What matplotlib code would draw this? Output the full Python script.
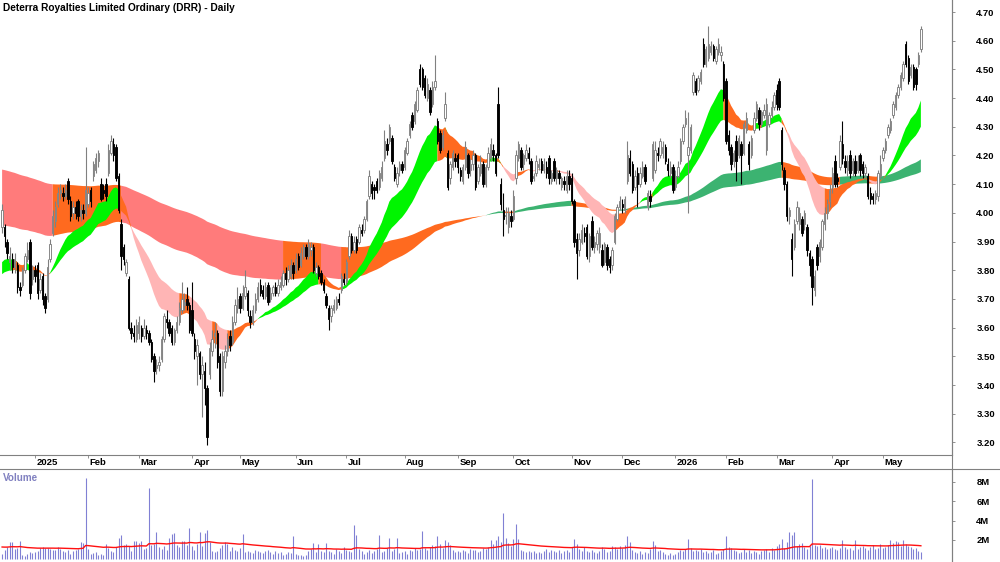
import matplotlib
matplotlib.use("Agg")
import matplotlib.pyplot as plt
from matplotlib.lines import Line2D
import numpy as np
import pandas as pd

plt.rcParams['font.family'] = ['Liberation Sans', 'DejaVu Sans']

title = "Deterra Royalties Limited Ordinary (DRR) - Daily"
start_date = "2024-12-11"
holidays = ["2024-12-25", "2024-12-26", "2025-01-01", "2025-01-27", "2025-04-18",
            "2025-04-21", "2025-04-25", "2025-06-09", "2025-12-25", "2025-12-26",
            "2026-01-01", "2026-01-26", "2026-04-03", "2026-04-06"]

# daily prices, one row per month (Dec 2024 .. May 2026)
opens = [
    3.95, 3.95, 3.90, 3.83, 3.84, 3.81, 3.82, 3.74, 3.75, 3.80, 3.84, 3.90, 3.77,
    3.80, 3.82, 3.73, 3.78, 3.71, 3.70, 3.84, 3.93, 3.97, 4.03, 4.07, 4.07, 4.06, 4.11, 4.04, 4.00, 4.02, 4.04, 3.99, 4.01, 4.00,
    4.03, 4.08, 4.13, 4.15, 4.18, 4.10, 4.08, 4.10, 4.14, 4.21, 4.24, 4.23, 4.13, 3.96, 3.88, 3.79, 3.77, 3.60, 3.58, 3.56,
    3.58, 3.60, 3.57, 3.59, 3.58, 3.55, 3.50, 3.46, 3.47, 3.49, 3.56, 3.63, 3.62, 3.60, 3.55, 3.59, 3.62, 3.66, 3.68, 3.70, 3.68,
    3.66, 3.56, 3.50, 3.51, 3.44, 3.45, 3.39, 3.44, 3.52, 3.57, 3.58, 3.50, 3.38, 3.48, 3.52, 3.57, 3.55, 3.62, 3.67,
    3.71, 3.67, 3.71, 3.72, 3.64, 3.62, 3.66, 3.70, 3.75, 3.73, 3.71, 3.75, 3.70, 3.72, 3.74, 3.72, 3.74, 3.75, 3.79, 3.77, 3.78, 3.82,
    3.80, 3.85, 3.82, 3.85, 3.88, 3.85, 3.87, 3.88, 3.79, 3.81, 3.79, 3.76, 3.71, 3.67, 3.64, 3.66, 3.67, 3.70, 3.73, 3.77,
    3.76, 3.85, 3.92, 3.87, 3.91, 3.90, 3.94, 3.94, 3.98, 4.06, 4.10, 4.09, 4.11, 4.09, 4.12, 4.19, 4.24, 4.25, 4.26, 4.16, 4.10, 4.15, 4.17,
    4.16, 4.21, 4.27, 4.34, 4.32, 4.36, 4.50, 4.50, 4.47, 4.40, 4.43, 4.38, 4.44, 4.32, 4.28, 4.23, 4.33, 4.21, 4.12, 4.16, 4.19,
    4.20, 4.15, 4.11, 4.16, 4.20, 4.15, 4.17, 4.20, 4.11, 4.14, 4.17, 4.10, 4.16, 4.19, 4.22, 4.20, 4.38, 4.10, 4.01, 3.99, 3.95, 3.99,
    3.98, 4.12, 4.19, 4.22, 4.17, 4.19, 4.21, 4.18, 4.12, 4.14, 4.16, 4.18, 4.15, 4.16, 4.19, 4.11, 4.18, 4.12, 4.14, 4.09, 4.11, 4.08, 4.13,
    4.12, 4.04, 3.91, 3.87, 3.90, 3.93, 3.95, 3.85, 3.97, 3.88, 3.89, 3.88, 3.87, 3.83, 3.88, 3.84, 3.82, 3.90, 3.98, 4.02,
    4.03, 4.01, 4.11, 4.19, 4.17, 4.09, 4.14, 4.10, 4.13, 4.16, 4.02, 4.06, 4.12, 4.15, 4.21, 4.20, 4.21, 4.23, 4.17, 4.14, 4.16,
    4.09, 4.13, 4.18, 4.25, 4.31, 4.20, 4.22, 4.42, 4.46, 4.43, 4.46, 4.59, 4.52, 4.54, 4.56, 4.58, 4.53, 4.56, 4.55, 4.52,
    4.46, 4.27, 4.23, 4.18, 4.25, 4.20, 4.24, 4.21, 4.29, 4.24, 4.20, 4.29, 4.33, 4.36, 4.31, 4.34, 4.22, 4.31, 4.34, 4.37,
    4.43, 4.46, 4.29, 4.15, 4.10, 3.99, 3.91, 3.88, 3.97, 3.96, 3.98, 3.96, 3.95, 3.86, 3.84, 3.73, 3.88, 3.85, 3.88, 3.96, 4.00, 4.04,
    4.09, 4.18, 4.12, 4.16, 4.24, 4.18, 4.15, 4.20, 4.15, 4.18, 4.15, 4.20, 4.17, 4.14, 4.13, 4.07, 4.06, 4.05, 4.06, 4.13,
    4.19, 4.22, 4.27, 4.29, 4.34, 4.37, 4.41, 4.44, 4.47, 4.59, 4.54, 4.48, 4.51, 4.50, 4.52, 4.57,
]
highs = [
    4.03, 3.96, 3.91, 3.88, 3.86, 3.86, 3.83, 3.76, 3.81, 3.86, 3.90, 3.91, 3.82,
    3.82, 3.83, 3.79, 3.79, 3.72, 3.84, 3.91, 4.01, 4.04, 4.09, 4.10, 4.09, 4.10, 4.12, 4.06, 4.04, 4.04, 4.05, 4.03, 4.03, 4.23,
    4.09, 4.09, 4.18, 4.21, 4.22, 4.12, 4.10, 4.12, 4.24, 4.27, 4.26, 4.24, 4.14, 3.98, 3.89, 3.84, 3.78, 3.62, 3.61, 3.63,
    3.64, 3.61, 3.63, 3.61, 3.59, 3.56, 3.51, 3.49, 3.50, 3.57, 3.65, 3.66, 3.63, 3.61, 3.60, 3.64, 3.69, 3.76, 3.72, 3.74, 3.69,
    3.76, 3.58, 3.56, 3.52, 3.50, 3.48, 3.40, 3.55, 3.59, 3.62, 3.59, 3.51, 3.52, 3.54, 3.58, 3.59, 3.64, 3.70, 3.74,
    3.72, 3.75, 3.80, 3.73, 3.66, 3.68, 3.72, 3.76, 3.77, 3.75, 3.76, 3.76, 3.74, 3.75, 3.76, 3.77, 3.78, 3.80, 3.81, 3.82, 3.84, 3.83,
    3.86, 3.86, 3.88, 3.89, 3.89, 3.91, 3.90, 3.89, 3.83, 3.82, 3.80, 3.77, 3.72, 3.68, 3.68, 3.70, 3.71, 3.72, 3.79, 3.79,
    3.84, 3.94, 3.93, 3.92, 3.92, 3.96, 3.96, 3.99, 4.05, 4.15, 4.11, 4.10, 4.12, 4.15, 4.18, 4.29, 4.26, 4.31, 4.27, 4.17, 4.16, 4.18, 4.18,
    4.23, 4.26, 4.32, 4.35, 4.39, 4.44, 4.52, 4.51, 4.48, 4.47, 4.44, 4.46, 4.55, 4.33, 4.29, 4.29, 4.42, 4.22, 4.18, 4.22, 4.21,
    4.21, 4.16, 4.17, 4.25, 4.21, 4.19, 4.22, 4.21, 4.17, 4.20, 4.18, 4.17, 4.23, 4.26, 4.24, 4.21, 4.44, 4.12, 4.07, 4.02, 4.02, 4.01,
    4.08, 4.22, 4.25, 4.23, 4.21, 4.24, 4.23, 4.19, 4.14, 4.20, 4.19, 4.19, 4.19, 4.18, 4.20, 4.15, 4.19, 4.16, 4.15, 4.13, 4.13, 4.15, 4.15,
    4.14, 4.05, 3.93, 3.93, 3.96, 3.95, 3.96, 3.93, 3.99, 3.92, 3.94, 3.95, 3.89, 3.90, 3.89, 3.85, 3.88, 4.00, 4.03, 4.06,
    4.05, 4.06, 4.25, 4.22, 4.18, 4.15, 4.16, 4.16, 4.18, 4.17, 4.08, 4.08, 4.25, 4.25, 4.23, 4.26, 4.25, 4.24, 4.19, 4.18, 4.17,
    4.15, 4.18, 4.26, 4.31, 4.36, 4.35, 4.31, 4.49, 4.47, 4.48, 4.50, 4.61, 4.58, 4.65, 4.60, 4.59, 4.58, 4.61, 4.58, 4.53,
    4.47, 4.29, 4.24, 4.22, 4.27, 4.27, 4.25, 4.32, 4.35, 4.25, 4.27, 4.35, 4.39, 4.37, 4.36, 4.38, 4.40, 4.35, 4.39, 4.42,
    4.45, 4.47, 4.30, 4.16, 4.11, 4.02, 3.93, 3.98, 4.04, 4.02, 3.99, 4.01, 3.96, 3.87, 3.85, 3.80, 3.89, 3.91, 3.98, 4.02, 4.05, 4.10,
    4.16, 4.20, 4.14, 4.27, 4.32, 4.20, 4.20, 4.22, 4.19, 4.20, 4.20, 4.21, 4.18, 4.17, 4.14, 4.09, 4.07, 4.08, 4.15, 4.20,
    4.23, 4.26, 4.31, 4.33, 4.39, 4.42, 4.45, 4.49, 4.53, 4.60, 4.55, 4.52, 4.52, 4.51, 4.56, 4.65,
]
lows = [
    3.93, 3.88, 3.84, 3.80, 3.79, 3.79, 3.72, 3.71, 3.74, 3.79, 3.83, 3.70, 3.75,
    3.76, 3.70, 3.72, 3.68, 3.65, 3.69, 3.83, 3.92, 3.95, 4.02, 4.05, 4.04, 4.05, 4.03, 3.97, 3.98, 3.98, 3.97, 3.97, 3.98, 3.99,
    4.02, 4.02, 4.11, 4.14, 4.16, 4.04, 4.05, 4.04, 4.13, 4.20, 4.18, 4.11, 4.00, 3.80, 3.82, 3.78, 3.59, 3.56, 3.55, 3.55,
    3.56, 3.55, 3.56, 3.56, 3.54, 3.48, 3.41, 3.44, 3.45, 3.48, 3.55, 3.60, 3.57, 3.54, 3.54, 3.58, 3.61, 3.65, 3.66, 3.66, 3.58,
    3.57, 3.49, 3.40, 3.42, 3.29, 3.33, 3.19, 3.42, 3.50, 3.53, 3.46, 3.36, 3.36, 3.46, 3.50, 3.52, 3.54, 3.61, 3.65,
    3.65, 3.66, 3.70, 3.64, 3.60, 3.61, 3.65, 3.69, 3.71, 3.70, 3.70, 3.68, 3.69, 3.71, 3.71, 3.71, 3.73, 3.74, 3.75, 3.76, 3.77, 3.77,
    3.79, 3.80, 3.81, 3.84, 3.84, 3.84, 3.85, 3.79, 3.78, 3.77, 3.75, 3.72, 3.67, 3.59, 3.62, 3.65, 3.66, 3.68, 3.72, 3.75,
    3.75, 3.84, 3.86, 3.86, 3.86, 3.89, 3.92, 3.93, 3.97, 4.05, 4.05, 4.05, 4.07, 4.08, 4.11, 4.18, 4.20, 4.24, 4.17, 4.11, 4.09, 4.13, 4.14,
    4.15, 4.20, 4.26, 4.29, 4.31, 4.35, 4.44, 4.43, 4.40, 4.39, 4.34, 4.37, 4.43, 4.24, 4.21, 4.22, 4.32, 4.08, 4.10, 4.15, 4.16,
    4.14, 4.11, 4.10, 4.15, 4.12, 4.13, 4.15, 4.08, 4.10, 4.13, 4.09, 4.09, 4.15, 4.18, 4.18, 4.13, 4.19, 4.01, 3.92, 3.96, 3.93, 3.95,
    3.97, 4.10, 4.18, 4.15, 4.15, 4.18, 4.17, 4.10, 4.11, 4.13, 4.15, 4.14, 4.14, 4.12, 4.10, 4.10, 4.11, 4.10, 4.10, 4.08, 4.08, 4.07, 4.08,
    4.03, 3.88, 3.77, 3.85, 3.89, 3.90, 3.84, 3.83, 3.87, 3.86, 3.87, 3.86, 3.81, 3.82, 3.80, 3.79, 3.80, 3.89, 3.97, 4.01,
    4.00, 4.00, 4.10, 4.13, 4.07, 4.08, 4.02, 4.09, 4.12, 4.10, 4.01, 4.02, 4.11, 4.14, 4.18, 4.19, 4.19, 4.17, 4.13, 4.12, 4.07,
    4.08, 4.12, 4.17, 4.24, 4.30, 4.00, 4.21, 4.41, 4.41, 4.42, 4.45, 4.51, 4.51, 4.53, 4.55, 4.53, 4.52, 4.55, 4.53, 4.39,
    4.24, 4.20, 4.15, 4.16, 4.11, 4.19, 4.10, 4.20, 4.28, 4.15, 4.19, 4.28, 4.32, 4.29, 4.30, 4.33, 4.20, 4.30, 4.33, 4.36,
    4.36, 4.36, 4.15, 4.08, 3.97, 3.96, 3.78, 3.87, 3.96, 3.94, 3.92, 3.94, 3.85, 3.78, 3.68, 3.71, 3.80, 3.83, 3.87, 3.94, 3.98, 4.02,
    4.07, 4.09, 4.09, 4.15, 4.17, 4.14, 4.13, 4.12, 4.13, 4.13, 4.14, 4.13, 4.12, 4.12, 4.05, 4.03, 4.03, 4.03, 4.04, 4.12,
    4.18, 4.21, 4.26, 4.28, 4.33, 4.36, 4.40, 4.43, 4.46, 4.51, 4.45, 4.47, 4.43, 4.43, 4.51, 4.56,
]
closes = [
    4.01, 3.92, 3.86, 3.85, 3.81, 3.84, 3.74, 3.73, 3.80, 3.85, 3.87, 3.72, 3.80,
    3.78, 3.72, 3.77, 3.70, 3.67, 3.81, 3.89, 3.99, 4.02, 4.07, 4.08, 4.06, 4.08, 4.05, 3.99, 4.02, 4.00, 3.99, 4.01, 4.00, 4.08,
    4.07, 4.04, 4.17, 4.19, 4.21, 4.05, 4.07, 4.06, 4.22, 4.25, 4.20, 4.12, 4.01, 3.85, 3.84, 3.83, 3.60, 3.58, 3.57, 3.61,
    3.62, 3.57, 3.60, 3.58, 3.55, 3.49, 3.45, 3.47, 3.48, 3.56, 3.64, 3.62, 3.58, 3.55, 3.59, 3.62, 3.67, 3.70, 3.69, 3.68, 3.59,
    3.58, 3.52, 3.54, 3.44, 3.47, 3.39, 3.22, 3.53, 3.56, 3.58, 3.48, 3.38, 3.50, 3.52, 3.56, 3.54, 3.62, 3.68, 3.70,
    3.67, 3.72, 3.74, 3.66, 3.62, 3.66, 3.70, 3.74, 3.72, 3.71, 3.74, 3.69, 3.72, 3.74, 3.72, 3.75, 3.76, 3.79, 3.77, 3.80, 3.82, 3.79,
    3.84, 3.81, 3.86, 3.88, 3.85, 3.89, 3.88, 3.80, 3.81, 3.78, 3.76, 3.73, 3.68, 3.63, 3.67, 3.68, 3.70, 3.69, 3.78, 3.76,
    3.83, 3.92, 3.87, 3.90, 3.87, 3.95, 3.93, 3.98, 4.04, 4.13, 4.07, 4.08, 4.08, 4.14, 4.16, 4.25, 4.22, 4.30, 4.18, 4.12, 4.14, 4.17, 4.15,
    4.22, 4.25, 4.31, 4.30, 4.38, 4.43, 4.45, 4.44, 4.41, 4.45, 4.35, 4.44, 4.46, 4.25, 4.22, 4.27, 4.38, 4.09, 4.17, 4.21, 4.18,
    4.16, 4.13, 4.16, 4.23, 4.14, 4.17, 4.20, 4.09, 4.16, 4.17, 4.10, 4.16, 4.21, 4.24, 4.20, 4.14, 4.20, 4.03, 3.98, 3.99, 4.00, 3.97,
    4.06, 4.20, 4.24, 4.16, 4.20, 4.22, 4.19, 4.11, 4.13, 4.18, 4.17, 4.15, 4.17, 4.14, 4.12, 4.14, 4.12, 4.15, 4.12, 4.12, 4.10, 4.13, 4.10,
    4.04, 3.90, 3.86, 3.91, 3.94, 3.92, 3.85, 3.92, 3.88, 3.90, 3.93, 3.93, 3.82, 3.89, 3.82, 3.81, 3.87, 3.99, 4.02, 4.04,
    4.02, 4.05, 4.20, 4.14, 4.08, 4.13, 4.10, 4.14, 4.16, 4.11, 4.07, 4.04, 4.24, 4.22, 4.20, 4.25, 4.23, 4.18, 4.15, 4.16, 4.08,
    4.13, 4.16, 4.25, 4.30, 4.33, 4.23, 4.30, 4.48, 4.42, 4.47, 4.49, 4.52, 4.57, 4.59, 4.58, 4.54, 4.57, 4.59, 4.56, 4.40,
    4.25, 4.22, 4.17, 4.21, 4.18, 4.26, 4.20, 4.31, 4.33, 4.17, 4.26, 4.33, 4.38, 4.31, 4.35, 4.36, 4.38, 4.34, 4.37, 4.41,
    4.38, 4.37, 4.17, 4.10, 3.99, 4.01, 3.84, 3.96, 4.02, 4.00, 3.93, 4.00, 3.87, 3.82, 3.74, 3.78, 3.82, 3.90, 3.97, 4.00, 4.03, 4.08,
    4.14, 4.10, 4.11, 4.25, 4.19, 4.16, 4.18, 4.14, 4.18, 4.14, 4.18, 4.15, 4.14, 4.16, 4.06, 4.05, 4.05, 4.07, 4.14, 4.17,
    4.22, 4.25, 4.30, 4.32, 4.38, 4.41, 4.44, 4.48, 4.52, 4.52, 4.46, 4.51, 4.44, 4.45, 4.55, 4.64,
]
# daily volume, millions of shares
volume_m = [
    0.6, 1.0, 1.3, 1.8, 1.8, 1.1, 1.2, 1.9, 0.4, 0.3, 0.6, 0.8, 0.7,
    0.8, 0.9, 1.2, 1.3, 1.2, 1.2, 1.1, 1.0, 1.0, 1.3, 1.1, 0.9, 0.8, 1.0, 0.6, 0.9, 1.0, 1.1, 1.8, 1.7, 8.4,
    1.1, 0.6, 0.7, 0.8, 0.5, 0.6, 0.5, 1.6, 1.2, 0.9, 0.8, 1.3, 2.2, 2.5, 1.5, 1.6, 1.4, 0.9, 1.9, 1.9,
    1.7, 1.9, 1.1, 1.2, 7.3, 1.5, 1.6, 2.8, 1.3, 1.1, 1.4, 1.0, 2.2, 2.6, 2.7, 1.5, 1.3, 1.9, 1.9, 1.5, 3.2,
    1.4, 1.0, 1.6, 2.8, 1.4, 2.7, 3.0, 1.8, 0.9, 0.8, 0.9, 1.2, 1.5, 1.8, 1.6, 0.9, 1.3, 1.0, 0.9,
    1.2, 2.6, 0.8, 0.9, 0.8, 0.7, 1.0, 0.9, 0.8, 0.7, 0.9, 1.0, 0.8, 0.6, 0.9, 0.7, 0.8, 0.5, 0.6, 0.8, 0.7, 2.4,
    0.6, 0.5, 0.4, 0.3, 0.4, 0.9, 1.1, 1.7, 0.8, 1.6, 0.9, 0.8, 1.7, 0.9, 0.8, 0.6, 1.1, 0.9, 0.7, 1.3,
    1.0, 0.9, 0.8, 3.5, 2.5, 1.1, 0.9, 0.6, 0.8, 1.0, 0.7, 0.9, 1.1, 2.5, 0.8, 0.9, 1.2, 2.2, 0.9, 1.1, 2.2, 0.7, 0.8,
    0.9, 0.6, 1.0, 0.9, 1.2, 1.0, 1.1, 2.9, 1.2, 1.0, 1.3, 1.5, 1.4, 2.4, 1.6, 1.2, 2.0, 1.8, 1.5, 1.0, 0.8,
    0.9, 0.8, 1.0, 0.9, 0.7, 1.1, 1.0, 1.0, 0.8, 0.9, 1.2, 1.1, 1.3, 2.0, 1.6, 2.0, 2.4, 1.8, 4.8, 2.2, 1.7, 1.4,
    2.1, 3.6, 2.1, 1.0, 0.9, 0.8, 0.9, 0.8, 0.9, 0.7, 0.8, 0.7, 0.9, 1.1, 0.8, 1.0, 0.9, 0.8, 1.0, 0.7, 0.9, 1.0, 0.8,
    1.3, 2.1, 1.6, 1.1, 0.9, 1.3, 0.9, 0.8, 1.0, 0.8, 0.7, 0.9, 1.3, 1.1, 0.8, 0.9, 1.4, 1.3, 1.1, 1.4,
    1.2, 1.5, 2.4, 1.8, 1.0, 0.8, 0.7, 0.9, 0.6, 0.8, 0.7, 1.1, 1.9, 1.5, 0.9, 1.0, 0.8, 0.6, 0.4, 0.7, 0.5,
    0.6, 0.8, 1.0, 0.9, 1.1, 2.1, 1.2, 0.9, 1.0, 0.9, 1.1, 0.8, 0.9, 0.7, 0.8, 1.0, 0.6, 0.7, 0.9, 1.1,
    2.4, 1.3, 1.2, 1.0, 0.9, 0.7, 0.8, 1.1, 0.8, 1.0, 0.7, 0.9, 0.8, 0.6, 0.9, 1.0, 1.1, 0.8, 1.2, 1.0,
    1.4, 1.6, 2.1, 1.2, 1.8, 2.8, 2.5, 2.8, 1.4, 1.6, 1.7, 1.3, 1.1, 1.4, 8.3, 1.5, 1.4, 1.5, 1.2, 1.3, 1.1, 1.2,
    1.3, 1.1, 1.0, 1.2, 2.0, 1.3, 1.1, 1.2, 1.0, 2.0, 1.1, 1.3, 1.4, 1.2, 1.0, 1.3, 1.5, 1.1, 1.2, 1.6,
    1.2, 1.3, 1.5, 2.0, 1.7, 1.9, 1.8, 1.4, 2.0, 1.6, 1.4, 1.3, 1.1, 1.2, 0.9, 0.8,
]

# trend ribbons: (fast, slow) EMA periods and their values before the first bar
short_periods = [21, 40]
long_periods = [150, 250]
short_seed = [3.81, 3.775]
long_seed = [3.955, 4.152]
vol_ma_period = 50
vol_ma_seed = 1.3

price_ticks = [3.2, 3.3, 3.4, 3.5, 3.6, 3.7, 3.8, 3.9, 4.0, 4.1, 4.2, 4.3, 4.4, 4.5, 4.6, 4.7]
vol_ticks = [2, 4, 6, 8]


def ema(values, period, seed):
    a = 2.0 / (period + 1)
    out, prev = [], seed
    for v in values:
        prev = prev + a * (v - prev)
        out.append(prev)
    return np.array(out)


def ribbon(ax, x, values, periods, seeds, bull_col, bear_col, mix_col):
    fast = ema(values, periods[0], seeds[0])
    slow = ema(values, periods[1], seeds[1])
    rising = np.diff(fast) > 0
    rising = np.r_[rising[0], rising]
    state = np.where((fast > slow) & rising, 1,
                     np.where((fast < slow) & ~rising, -1, 0))
    lo, hi = np.minimum(fast, slow), np.maximum(fast, slow)
    for s, col in ((1, bull_col), (-1, bear_col), (0, mix_col)):
        m = state == s
        m = m | np.r_[False, m[:-1]]
        ax.fill_between(x, lo, hi, where=m, color=col, linewidth=0, zorder=1)


o = np.array(opens)
h = np.array(highs)
l = np.array(lows)
c = np.array(closes)
vol = np.array(volume_m)
n = len(c)
x = np.arange(n)
dates = pd.date_range(start_date, periods=n,
                      freq=pd.offsets.CustomBusinessDay(holidays=holidays))

fig = plt.figure(figsize=(10, 5.62), dpi=100)
ax = fig.add_axes([0, 107 / 562, 0.952, 455 / 562])
vax = fig.add_axes([0, 0, 0.952, 93 / 562])

orange = '#FF6A1F'
ribbon(ax, x, c, long_periods, long_seed, '#3CB371', '#FF7B7B', orange)
ribbon(ax, x, c, short_periods, short_seed, '#00F500', '#FFB5B5', orange)

up = c >= o
ax.vlines(x[up], l[up], h[up], colors='#808080', linewidth=0.8, zorder=3)
ax.vlines(x[~up], l[~up], h[~up], colors='black', linewidth=0.8, zorder=3)
bot = np.minimum(o, c)
hgt = np.maximum(np.abs(c - o), 0.004)
ax.bar(x[up], hgt[up], bottom=bot[up], width=0.55, facecolor='white',
       edgecolor='#808080', linewidth=0.65, zorder=4)
ax.bar(x[~up], hgt[~up], bottom=bot[~up], width=0.55, facecolor='black',
       edgecolor='black', linewidth=0.65, zorder=4)

xlim = (-0.83, 375.3)
ax.set_xlim(*xlim)
ax.set_ylim(3.156, 4.742)
ax.yaxis.tick_right()
ax.set_yticks(price_ticks)
ax.set_yticklabels([f"{v:.2f}" for v in price_ticks], fontsize=6.8, fontweight='bold')
ax.tick_params(axis='y', direction='out', length=2.5, width=0.6, color='#808080', pad=15)

month_start = np.r_[False, dates.month[1:] != dates.month[:-1]]
tick_idx = np.where(month_start)[0]
ax.set_xticks(tick_idx)
ax.tick_params(axis='x', direction='out', length=2.5, width=0.6, color='#808080',
               labelbottom=False)
for i in tick_idx:
    d = dates[i]
    lbl = str(d.year) if d.month == 1 else d.strftime('%b')
    ax.annotate(lbl, xy=(i, 0), xycoords=('data', 'axes fraction'), xytext=(1.2, -5.6),
                textcoords='offset points', ha='left', va='center', fontsize=6.8,
                fontweight='bold')
for sp in ('top', 'left'):
    ax.spines[sp].set_visible(False)
for sp in ('right', 'bottom'):
    ax.spines[sp].set_color('#808080')
    ax.spines[sp].set_linewidth(0.8)

vma = ema(vol, vol_ma_period, vol_ma_seed)
vax.vlines(x, 0, vol, colors='#8080D4', linewidth=0.8)
vax.plot(x, vma, color='#FF1010', linewidth=1.0)
vax.set_xlim(*xlim)
vax.set_ylim(-0.27, 9.3)
vax.set_xticks([])
vax.yaxis.tick_right()
vax.set_yticks(vol_ticks)
vax.set_yticklabels([f"{v}M" for v in vol_ticks], fontsize=6.8, fontweight='bold')
vax.tick_params(axis='y', direction='out', length=2.5, width=0.6, color='#808080', pad=15)
for sp in ('top', 'left', 'bottom'):
    vax.spines[sp].set_visible(False)
vax.spines['right'].set_color('#808080')
vax.spines['right'].set_linewidth(0.8)

fig.add_artist(Line2D([0, 1], [1 - 469 / 562] * 2, color='#808080', linewidth=0.8))
fig.add_artist(Line2D([0.952, 0.952], [0, 1], color='#808080', linewidth=0.8))

fig.text(0.003, 1 - 8 / 562, title, fontsize=7.3, fontweight='bold', va='center')
fig.text(0.003, 1 - 478 / 562, "Volume", fontsize=7.1, fontweight='bold',
         color='#8080C0', va='center')

fig.savefig("out.png", dpi=100, facecolor='white')
